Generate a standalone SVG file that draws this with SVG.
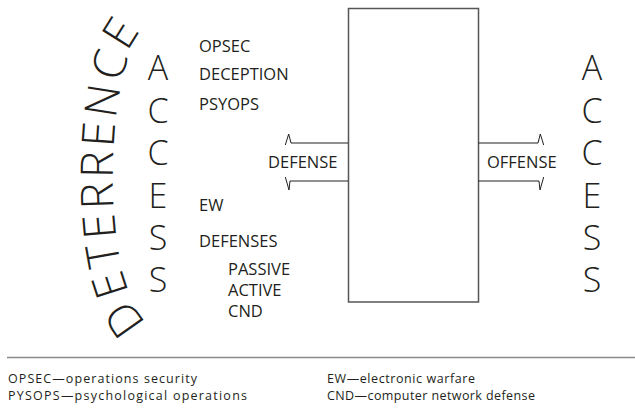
<svg xmlns="http://www.w3.org/2000/svg" width="635" height="411" viewBox="0 0 635 411">
  <style>
    .big { font-family: "Open Sans", "Liberation Sans", sans-serif; font-weight: 300; font-size: 34px; fill: #231f20; text-anchor: middle; }
    .arc { font-family: "Open Sans", "Liberation Sans", sans-serif; font-weight: 350; font-size: 45px; fill: #231f20; text-anchor: middle; }
    .lbl { font-family: "Open Sans", "Liberation Sans", sans-serif; font-size: 16.5px; fill: #231f20; }
    .note { font-family: "Open Sans", "Liberation Sans", sans-serif; font-size: 12.5px; fill: #231f20; }
    .box { fill: #ffffff; stroke: #555555; stroke-width: 1.5; }
    .arrow { fill: none; stroke: #231f20; stroke-width: 1; stroke-linejoin: miter; }
    .rule { stroke: #8a8a8a; stroke-width: 1.5; }
  </style>

  <rect width="635" height="411" fill="#ffffff"/>

  <!-- curved heading: one glyph per letter, each turned to follow the arc (reads bottom to top) -->
  <g id="deterrence">
    <text class="arc" transform="translate(136.9,310.4) rotate(-125)">D</text>
    <text class="arc" transform="translate(125.0,280.3) rotate(-108)">E</text>
    <text class="arc" transform="translate(118.8,253.0) rotate(-100)">T</text>
    <text class="arc" transform="translate(115.1,225.2) rotate(-95)">E</text>
    <text class="arc" transform="translate(113.1,195.5) rotate(-92)">R</text>
    <text class="arc" transform="translate(112.9,164.8) rotate(-89)">R</text>
    <text class="arc" transform="translate(114.3,135.4) rotate(-86)">E</text>
    <text class="arc" transform="translate(118.1,102.9) rotate(-81)">N</text>
    <text class="arc" transform="translate(124.7,69.5) rotate(-73)">C</text>
    <text class="arc" transform="translate(133.7,41.2) rotate(-58)">E</text>
  </g>

  <!-- vertical ACCESS, left column -->
  <g id="access-left">
    <text class="big" x="158" y="80">A</text>
    <text class="big" x="158" y="123">C</text>
    <text class="big" x="158" y="165">C</text>
    <text class="big" x="158" y="208">E</text>
    <text class="big" x="158" y="250">S</text>
    <text class="big" x="158" y="292">S</text>
  </g>

  <!-- vertical ACCESS, right column -->
  <g id="access-right">
    <text class="big" x="592" y="80">A</text>
    <text class="big" x="592" y="123">C</text>
    <text class="big" x="592" y="165">C</text>
    <text class="big" x="592" y="208">E</text>
    <text class="big" x="592" y="250">S</text>
    <text class="big" x="592" y="292">S</text>
  </g>

  <!-- measures list -->
  <g id="measures">
    <text class="lbl" x="199" y="52">OPSEC</text>
    <text class="lbl" x="199" y="80">DECEPTION</text>
    <text class="lbl" x="199" y="110">PSYOPS</text>
    <text class="lbl" x="199" y="211">EW</text>
    <text class="lbl" x="199" y="247">DEFENSES</text>
    <text class="lbl" x="228" y="275">PASSIVE</text>
    <text class="lbl" x="228" y="296">ACTIVE</text>
    <text class="lbl" x="228" y="317">CND</text>
  </g>

  <!-- central block -->
  <g id="center-box">
    <rect class="box" x="348.5" y="8.5" width="130" height="293.5"/>
  </g>

  <!-- open arrows leaving the block -->
  <g id="connectors">
    <path class="arrow" d="M348,143 H291 L288.7,134 L285.3,145"/>
    <path class="arrow" d="M348,181 H290 L289,190 L285.3,177"/>
    <path class="arrow" d="M478.5,143 H538 L540.3,134 L543.7,145"/>
    <path class="arrow" d="M478.5,181 H539 L540,190 L543.7,177"/>
  </g>

  <g id="defense">
    <text class="lbl" x="268" y="168">DEFENSE</text>
  </g>
  <g id="offense">
    <text class="lbl" x="487" y="168">OFFENSE</text>
  </g>

  <!-- legend -->
  <g id="legend">
    <line class="rule" x1="7" y1="357.5" x2="635" y2="357.5"/>
    <text class="note" x="8" y="382.5" textLength="189" lengthAdjust="spacing">OPSEC—operations security</text>
    <text class="note" x="8" y="400" textLength="239" lengthAdjust="spacing">PYSOPS—psychological operations</text>
    <text class="note" x="327" y="382.5" textLength="148" lengthAdjust="spacing">EW—electronic warfare</text>
    <text class="note" x="327" y="400" textLength="208" lengthAdjust="spacing">CND—computer network defense</text>
  </g>
</svg>
